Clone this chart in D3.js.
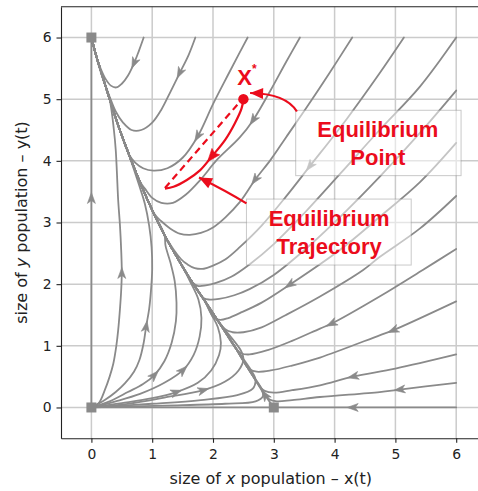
<!DOCTYPE html>
<html><head><meta charset="utf-8">
<script src="https://cdn.jsdelivr.net/npm/d3@7"></script>
<style>body{margin:0;background:#fff}svg{display:block}</style>
</head><body><svg id="c" width="478" height="491"></svg>
<script>
// ---------------- data (data units) ----------------
const xTicks = [0, 1, 2, 3, 4, 5, 6];
const yTicks = [0, 1, 2, 3, 4, 5, 6];
const fixedPoints = [[0, 0], [0, 6], [3, 0]];

// separatrix: saddle (3,0) -> stable node (0,6); the other curves merge into it
const manifold = [[3,0],[2.8,0.28],[2.6,0.6],[2.35,1.0],[2.1,1.38],[1.85,1.75],[1.6,2.12],[1.4,2.45],[1.2,2.8],[1.0,3.2],[0.8,3.65],[0.6,4.15],[0.45,4.55],[0.3,5.0],[0.18,5.38],[0.08,5.7],[0,6]];
const manifoldArrow = [2.84, 0.2];

// streamlines entering through the top edge
const topStreams = [
  [[0.86,6],[0.78,5.78],[0.7,5.58],[0.6,5.38],[0.5,5.25],[0.41,5.19],[0.32,5.22],[0.22,5.35],[0.13,5.55],[0.06,5.76],[0,6]],
  [[1.71,6],[1.6,5.72],[1.45,5.42],[1.3,5.12],[1.15,4.83],[1.0,4.62],[0.82,4.5],[0.66,4.5],[0.52,4.62],[0.4,4.8],[0.3,5.04],[0.2,5.3],[0.1,5.62],[0,6]],
  [[2.57,6],[2.44,5.76],[2.25,5.4],[2.0,4.92],[1.75,4.4],[1.5,4.05],[1.25,3.88],[1.02,3.84],[0.85,3.88],[0.72,3.97],[0.62,4.1]],
  [[3.43,6],[3.2,5.6],[2.95,5.15],[2.66,4.66],[2.44,4.38],[2.06,4.01],[1.8,3.7],[1.55,3.45],[1.34,3.32],[1.15,3.32],[1.0,3.4],[0.88,3.55],[0.8,3.66]],
  [[4.29,6],[3.9,5.4],[3.55,4.88],[3.2,4.38],[2.95,4.02],[2.69,3.69],[2.44,3.33],[2.2,3.08],[2.0,2.92],[1.8,2.83],[1.62,2.8],[1.45,2.82],[1.3,2.9],[1.15,3.02],[1.05,3.12]],
  [[5.14,6],[4.74,5.42],[4.2,4.68],[3.59,3.91],[3.2,3.42],[2.8,2.95],[2.44,2.6],[2.2,2.4],[2.0,2.3],[1.85,2.25],[1.7,2.26],[1.58,2.32],[1.48,2.4]],
  [[6,6],[5.4,5.2],[4.74,4.5],[4.1,3.8],[3.5,3.15],[3.0,2.65],[2.6,2.32],[2.3,2.12],[2.05,2.02],[1.88,1.98],[1.76,1.97],[1.66,2.03]]
];
const topArrows = [[0.7,5.58],[1.45,5.42],[1.75,4.39],[2.66,4.66],[2.69,3.69],[3.59,3.91],null];

// streamlines entering through the right edge
const rightStreams = [
  [[6,5.14],[5.4,4.45],[4.74,3.74],[4.1,3.1],[3.5,2.55],[3.0,2.15],[2.6,1.92],[2.35,1.82],[2.1,1.76],[1.95,1.75],[1.85,1.77]],
  [[6,4.29],[5.4,3.65],[4.74,3.09],[4.08,2.55],[3.26,1.99],[2.8,1.7],[2.44,1.53],[2.25,1.45],[2.12,1.42],[2.02,1.45]],
  [[6,3.43],[5.4,2.9],[4.74,2.44],[4.47,2.23],[3.76,1.8],[3.2,1.5],[2.8,1.3],[2.5,1.22],[2.32,1.22],[2.2,1.27]],
  [[6,2.57],[5.45,2.23],[4.74,1.8],[3.95,1.36],[3.76,1.28],[3.3,1.08],[2.9,0.93],[2.6,0.86],[2.46,0.88],[2.38,0.95]],
  [[6,1.72],[4.96,1.25],[4.74,1.17],[3.76,0.81],[3.3,0.68],[2.95,0.6],[2.72,0.58],[2.6,0.62],[2.56,0.66]],
  [[6,0.86],[5.0,0.63],[4.3,0.5],[3.76,0.36],[3.3,0.28],[3.0,0.24],[2.85,0.27],[2.78,0.33]],
  [[6,0.4],[5.07,0.29],[4.74,0.25],[3.76,0.17],[3.3,0.12],[3.05,0.1],[2.93,0.13],[2.87,0.2]]
];
const rightArrows = [null,[3.26,1.99],null,[3.95,1.36],[4.96,1.25],[4.3,0.5],[5.07,0.29]];

// streamlines leaving the unstable node at the origin
const originStreams = [
  [[0,0],[0.12,0.07],[0.22,0.28],[0.3,0.5],[0.36,0.71],[0.41,1.0],[0.44,1.25],[0.47,1.6],[0.49,1.9],[0.5,2.2],[0.49,2.55],[0.47,2.95],[0.44,3.37],[0.42,3.8],[0.4,4.18],[0.37,4.5]],
  [[0,0],[0.22,0.12],[0.4,0.25],[0.55,0.39],[0.7,0.58],[0.79,0.77],[0.86,1.05],[0.9,1.31],[0.95,1.6],[0.98,1.9],[1.0,2.25],[0.99,2.6],[0.95,2.95],[0.88,3.3],[0.78,3.62]],
  [[0,0],[0.3,0.1],[0.6,0.25],[0.85,0.38],[1.04,0.53],[1.2,0.75],[1.32,1.05],[1.39,1.4],[1.4,1.7],[1.37,2.05],[1.3,2.35],[1.22,2.62]],
  [[0,0],[0.4,0.1],[0.8,0.22],[1.2,0.4],[1.51,0.61],[1.68,0.85],[1.78,1.15],[1.81,1.45],[1.76,1.75],[1.62,2.05],[1.48,2.32]],
  [[0,0],[0.5,0.07],[1.0,0.15],[1.4,0.25],[1.75,0.4],[1.97,0.6],[2.1,0.85],[2.13,1.05],[2.08,1.3],[1.98,1.5]],
  [[0,0],[0.6,0.06],[1.2,0.16],[1.84,0.28],[2.2,0.42],[2.42,0.6],[2.5,0.78],[2.46,0.92]],
  [[0,0],[1.0,0.06],[1.8,0.12],[2.4,0.2],[2.65,0.3],[2.7,0.45],[2.66,0.55]],
  [[0,0],[1.2,0.03],[2.2,0.06],[2.7,0.1],[2.82,0.18],[2.8,0.3]]
];
const originArrows = [[0.52,2.18],[0.9,1.31],[1.04,0.53],[1.51,0.61],[1.4,0.25],[1.84,0.28],null,null];

// invariant axes
const axisStreams = [ [[0,0],[0,6]], [[6,0],[3,0]], [[0,0],[3,0]] ];
const axisArrows = [[0,3.4],[4.3,0],null];

// red annotation: equilibrium point and trajectory
const eqPoint = [2.5, 5.0];
const eqTrajectory = [[2.5,5.0],[2.47,4.85],[2.36,4.61],[2.2,4.34],[1.98,4.07],[1.79,3.85],[1.57,3.69],[1.35,3.58],[1.21,3.55]];
const eqTrajectoryArrow = [1.98, 4.07];
const eqReturn = [[1.21,3.56],[2.4,4.91]];

// ---------------- drawing ----------------
const svg = d3.select('#c');
const x = d3.scaleLinear().domain([-0.5, 6.5]).range([61, 486.6]);
const y = d3.scaleLinear().domain([-0.5, 6.5]).range([438.3, 6.7]);
const GRAY = '#8a8a8a', RED = '#eb0c1c';
const FONT = '"Liberation Sans", Arial, sans-serif';
const AXFONT = '"DejaVu Sans", sans-serif';

svg.append('defs').append('clipPath').attr('id', 'clip')
  .append('rect').attr('x', x(-0.5)).attr('y', y(6.5)).attr('width', x(6.5) - x(-0.5)).attr('height', y(-0.5) - y(6.5));

// grid
const grid = svg.append('g');
grid.selectAll('.gx').data(xTicks).join('line')
  .attr('x1', d => x(d)).attr('x2', d => x(d)).attr('y1', y(6.5)).attr('y2', y(-0.5))
  .attr('stroke', '#cbcbcb').attr('stroke-width', 1.5);
grid.selectAll('.gy').data(yTicks).join('line')
  .attr('y1', d => y(d)).attr('y2', d => y(d)).attr('x1', x(-0.5)).attr('x2', x(6.5))
  .attr('stroke', '#cbcbcb').attr('stroke-width', 1.5);

const plot = svg.append('g').attr('clip-path', 'url(#clip)');
const line = d3.line().x(d => x(d[0])).y(d => y(d[1])).curve(d3.curveCatmullRom.alpha(0.5));

function withTail(pts) {
  const last = pts[pts.length - 1];
  if (last[0] === 0 && last[1] === 6) return pts;
  return pts.concat(manifold.filter(p => p[1] > last[1] + 0.12));
}

function drawHead(g, pathNode, at, color, L, Wd, notch) {
  const total = pathNode.getTotalLength();
  const tx = x(at[0]), ty = y(at[1]);
  let best = 0, bd = Infinity;
  for (let l = 0; l <= total; l += 0.5) {
    const p = pathNode.getPointAtLength(l);
    const d = (p.x - tx) ** 2 + (p.y - ty) ** 2;
    if (d < bd) { bd = d; best = l; }
  }
  const p0 = pathNode.getPointAtLength(Math.max(0, best - 2));
  const p1 = pathNode.getPointAtLength(Math.min(total, best + 2));
  const c = pathNode.getPointAtLength(best);
  const ang = Math.atan2(p1.y - p0.y, p1.x - p0.x) * 180 / Math.PI;
  g.append('path')
    .attr('d', `M${L/2},0 L${-L/2},${-Wd/2} L${-L/2 + notch},0 L${-L/2},${Wd/2} Z`)
    .attr('transform', `translate(${c.x},${c.y}) rotate(${ang})`)
    .attr('fill', color).attr('stroke', color).attr('stroke-width', 0.6).attr('stroke-linejoin', 'miter');
}

function drawStreams(list, arrows, merge) {
  list.forEach((pts, i) => {
    const data = merge ? withTail(pts) : pts;
    const p = plot.append('path').attr('d', line(data)).attr('fill', 'none')
      .attr('stroke', GRAY).attr('stroke-width', 1.8).attr('stroke-linecap', 'round');
    if (arrows[i]) drawHead(plot, p.node(), arrows[i], GRAY, 11, 8, 3);
  });
}

drawStreams(axisStreams, axisArrows, false);
drawStreams([manifold], [manifoldArrow], false);
drawStreams(originStreams, originArrows, true);
drawStreams(rightStreams, rightArrows, true);
drawStreams(topStreams, topArrows, true);

plot.selectAll('.fp').data(fixedPoints).join('rect')
  .attr('x', d => x(d[0]) - 5).attr('y', d => y(d[1]) - 5).attr('width', 10).attr('height', 10)
  .attr('fill', GRAY);

// axes
const ax = svg.append('g').attr('transform', `translate(0,${y(-0.5)})`)
  .call(d3.axisBottom(x).tickValues(xTicks).tickFormat(d3.format('d')).tickSize(4.5).tickPadding(6).tickSizeOuter(0));
const ay = svg.append('g').attr('transform', `translate(${x(-0.5)},0)`)
  .call(d3.axisLeft(y).tickValues(yTicks).tickFormat(d3.format('d')).tickSize(4.5).tickPadding(5).tickSizeOuter(0));
[ax, ay].forEach(a => {
  a.select('.domain').attr('stroke', '#222').attr('stroke-width', 1.1);
  a.selectAll('.tick line').attr('stroke', '#222').attr('stroke-width', 1.1);
  a.selectAll('.tick text').attr('fill', '#222').style('font-family', AXFONT).style('font-size', '13.9px');
});
svg.append('line').attr('x1', x(-0.5)).attr('x2', x(6.5)).attr('y1', y(6.5)).attr('y2', y(6.5))
  .attr('stroke', '#222').attr('stroke-width', 1.1);

const xl = svg.append('text').attr('x', x(2.95)).attr('y', 483.5).attr('text-anchor', 'middle')
  .style('font-family', AXFONT).style('font-size', '16px').attr('fill', '#222');
xl.append('tspan').text('size of ');
xl.append('tspan').text('x').style('font-style', 'italic');
xl.append('tspan').text(' population \u2013 x(t)');
const yl = svg.append('text').attr('transform', `translate(27,${y(3)}) rotate(-90)`).attr('text-anchor', 'middle')
  .style('font-family', AXFONT).style('font-size', '16px').attr('fill', '#222');
yl.append('tspan').text('size of ');
yl.append('tspan').text('y').style('font-style', 'italic');
yl.append('tspan').text(' population \u2013 y(t)');

// annotation boxes
function box(x0, y0, x1, y1) {
  svg.append('rect').attr('x', x(x0)).attr('y', y(y0)).attr('width', x(x1) - x(x0)).attr('height', y(y1) - y(y0))
    .attr('fill', '#fff').attr('fill-opacity', 0.5).attr('stroke', '#888').attr('stroke-opacity', 0.45).attr('stroke-width', 1);
}
box(3.36, 4.82, 6.08, 3.76);
box(2.55, 3.38, 5.26, 2.31);

function label(cx, by, lines) {
  const t = svg.append('text').attr('text-anchor', 'middle').style('font-family', FONT)
    .style('font-weight', 'bold').style('font-size', '22px').attr('fill', RED);
  lines.forEach((s, i) => t.append('tspan').attr('x', x(cx)).attr('y', y(by)).attr('dy', (i * 1.25) + 'em').text(s));
}
label(4.71, 4.38, ['Equilibrium', 'Point']);
label(3.91, 2.94, ['Equilibrium', 'Trajectory']);

// red equilibrium trajectory
const red = svg.append('g');
const lin = d3.line().x(d => x(d[0])).y(d => y(d[1]));
red.append('path').attr('d', lin(eqReturn)).attr('fill', 'none').attr('stroke', RED)
  .attr('stroke-width', 2.2).attr('stroke-dasharray', '7,4.5');
const tr = red.append('path').attr('d', line(eqTrajectory)).attr('fill', 'none').attr('stroke', RED).attr('stroke-width', 2.2);
drawHead(red, tr.node(), eqTrajectoryArrow, RED, 13, 10, 2);
red.append('circle').attr('cx', x(eqPoint[0])).attr('cy', y(eqPoint[1])).attr('r', 5.2).attr('fill', RED);
red.append('text').attr('x', x(2.4)).attr('y', y(5.23)).style('font-family', FONT)
  .style('font-weight', 'bold').style('font-size', '22px').attr('fill', RED).text('X');
red.append('text').attr('x', x(2.64)).attr('y', y(5.42)).style('font-family', FONT)
  .style('font-weight', 'bold').style('font-size', '12px').attr('fill', RED).text('*');

// curved annotation arrows (quadratic: start, control, tip)
function curvedArrow(s, c, e) {
  const path = d3.path();
  path.moveTo(x(s[0]), y(s[1]));
  path.quadraticCurveTo(x(c[0]), y(c[1]), x(e[0]), y(e[1]));
  const p = red.append('path').attr('d', path.toString()).attr('fill', 'none').attr('stroke', RED).attr('stroke-width', 2.2);
  const n = p.node(), L = n.getTotalLength();
  const a = n.getPointAtLength(L - 3), b = n.getPointAtLength(L);
  const ang = Math.atan2(b.y - a.y, b.x - a.x) * 180 / Math.PI;
  red.append('path').attr('d', 'M0,0 L-13,-5.5 L-13,5.5 Z')
    .attr('transform', `translate(${b.x},${b.y}) rotate(${ang})`).attr('fill', RED);
}
curvedArrow([3.38, 4.8], [3.2, 5.09], [2.61, 5.1]);
curvedArrow([2.55, 3.31], [2.22, 3.51], [1.77, 3.73]);
</script></body></html>
